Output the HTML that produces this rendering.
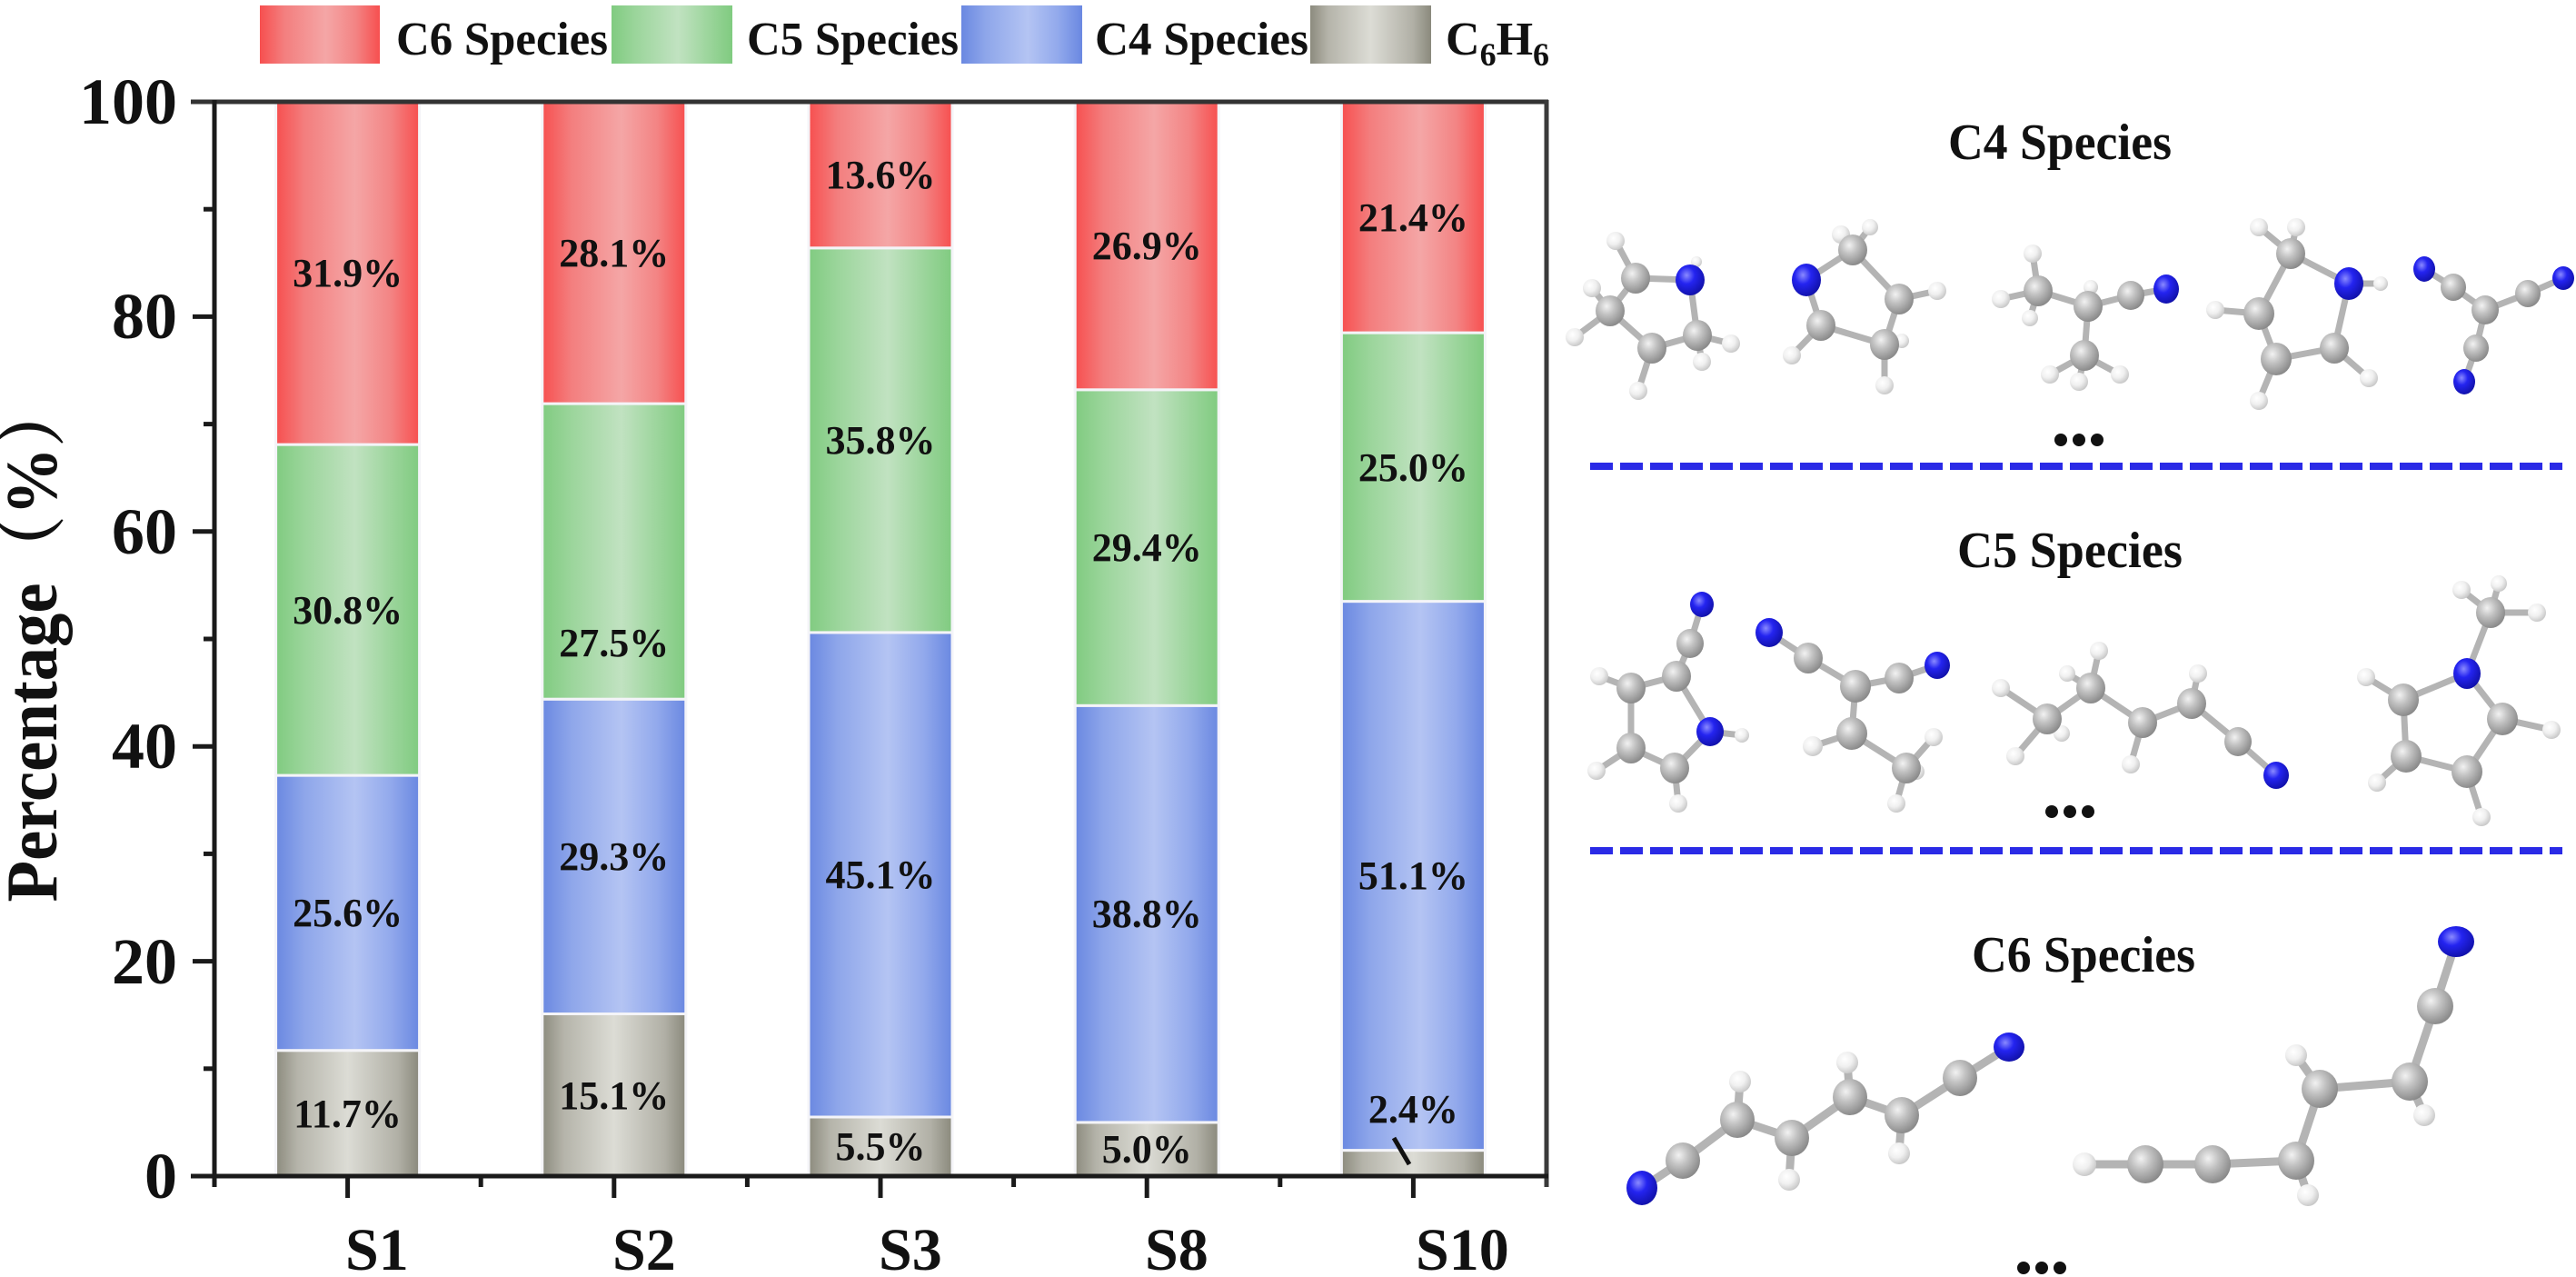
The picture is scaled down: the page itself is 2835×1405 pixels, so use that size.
<!DOCTYPE html>
<html><head><meta charset="utf-8"><style>
html,body{margin:0;padding:0;background:#fff;}
svg{display:block;}
text{font-family:"Liberation Serif","Noto Serif CJK SC",serif;font-weight:bold;fill:#111;}
</style></head><body>
<svg width="2835" height="1405" viewBox="0 0 2835 1405" xmlns="http://www.w3.org/2000/svg">
<defs>
<linearGradient id="gr" x1="0" x2="1" y1="0" y2="0"><stop offset="0" stop-color="#f74f4f"/><stop offset="0.2" stop-color="#f37e7e"/><stop offset="0.55" stop-color="#f4a6a6"/><stop offset="0.8" stop-color="#f38484"/><stop offset="1" stop-color="#f74f4f"/></linearGradient>
<linearGradient id="gg" x1="0" x2="1" y1="0" y2="0"><stop offset="0" stop-color="#80cb80"/><stop offset="0.2" stop-color="#9bd59b"/><stop offset="0.55" stop-color="#c1e2c1"/><stop offset="0.8" stop-color="#9cd59c"/><stop offset="1" stop-color="#80cb80"/></linearGradient>
<linearGradient id="gb" x1="0" x2="1" y1="0" y2="0"><stop offset="0" stop-color="#6a88e1"/><stop offset="0.2" stop-color="#8ea6ea"/><stop offset="0.55" stop-color="#b4c4f3"/><stop offset="0.8" stop-color="#92a9ec"/><stop offset="1" stop-color="#6a88e1"/></linearGradient>
<linearGradient id="gy" x1="0" x2="1" y1="0" y2="0"><stop offset="0" stop-color="#8c8b7e"/><stop offset="0.15" stop-color="#b5b4aa"/><stop offset="0.5" stop-color="#dcdcd5"/><stop offset="0.85" stop-color="#b1b0a6"/><stop offset="1" stop-color="#8a897c"/></linearGradient>
<radialGradient id="aC" cx="0.38" cy="0.35" r="0.7"><stop offset="0" stop-color="#f2f2f2"/><stop offset="0.4" stop-color="#c2c2c2"/><stop offset="1" stop-color="#858585"/></radialGradient>
<radialGradient id="aN" cx="0.38" cy="0.35" r="0.7"><stop offset="0" stop-color="#8a8aff"/><stop offset="0.4" stop-color="#2424f0"/><stop offset="1" stop-color="#1010a6"/></radialGradient>
<radialGradient id="aH" cx="0.38" cy="0.35" r="0.7"><stop offset="0" stop-color="#ffffff"/><stop offset="0.5" stop-color="#f0f0f0"/><stop offset="1" stop-color="#c4c4c4"/></radialGradient>
</defs>

<!-- Legend -->
<rect x="286" y="6" width="132" height="64" fill="url(#gr)"/>
<text x="436" y="60" font-size="52" textLength="233" lengthAdjust="spacingAndGlyphs">C6 Species</text>
<rect x="673" y="6" width="133" height="64" fill="url(#gg)"/>
<text x="822" y="60" font-size="52" textLength="233" lengthAdjust="spacingAndGlyphs">C5 Species</text>
<rect x="1058" y="6" width="133" height="64" fill="url(#gb)"/>
<text x="1205" y="60" font-size="52" textLength="235" lengthAdjust="spacingAndGlyphs">C4 Species</text>
<rect x="1442" y="6" width="133" height="64" fill="url(#gy)"/>
<text x="1591" y="60" font-size="52">C<tspan font-size="36" dy="12">6</tspan><tspan dy="-12">H</tspan><tspan font-size="36" dy="12">6</tspan></text>

<!-- Bars -->
<g stroke="#f4f4f8" stroke-width="3">
<rect x="303.6" y="1155.7" width="158" height="138.3" fill="url(#gy)"/>
<rect x="303.6" y="853.1" width="158" height="302.6" fill="url(#gb)"/>
<rect x="303.6" y="489.1" width="158" height="364" fill="url(#gg)"/>
<rect x="303.6" y="112" width="158" height="377.1" fill="url(#gr)"/>
<rect x="596.8" y="1115.5" width="158" height="178.5" fill="url(#gy)"/>
<rect x="596.8" y="769.2" width="158" height="346.3" fill="url(#gb)"/>
<rect x="596.8" y="444.1" width="158" height="325.1" fill="url(#gg)"/>
<rect x="596.8" y="112" width="158" height="332.1" fill="url(#gr)"/>
<rect x="890" y="1229" width="158" height="65" fill="url(#gy)"/>
<rect x="890" y="695.9" width="158" height="533.1" fill="url(#gb)"/>
<rect x="890" y="272.8" width="158" height="423.1" fill="url(#gg)"/>
<rect x="890" y="112" width="158" height="160.8" fill="url(#gr)"/>
<rect x="1183.2" y="1234.9" width="158" height="59.1" fill="url(#gy)"/>
<rect x="1183.2" y="776.3" width="158" height="458.6" fill="url(#gb)"/>
<rect x="1183.2" y="428.8" width="158" height="347.5" fill="url(#gg)"/>
<rect x="1183.2" y="112" width="158" height="316.8" fill="url(#gr)"/>
<rect x="1476.4" y="1265.6" width="158" height="28.4" fill="url(#gy)"/>
<rect x="1476.4" y="661.6" width="158" height="604" fill="url(#gb)"/>
<rect x="1476.4" y="366.1" width="158" height="295.5" fill="url(#gg)"/>
<rect x="1476.4" y="112" width="158" height="254.1" fill="url(#gr)"/>
</g>

<!-- Value labels -->
<g font-size="44" text-anchor="middle">
<text x="382.6" y="1240">11.7%</text>
<text x="382.6" y="1019">25.6%</text>
<text x="382.6" y="686">30.8%</text>
<text x="382.6" y="315">31.9%</text>
<text x="675.8" y="1220">15.1%</text>
<text x="675.8" y="957">29.3%</text>
<text x="675.8" y="722">27.5%</text>
<text x="675.8" y="293">28.1%</text>
<text x="969" y="1276">5.5%</text>
<text x="969" y="977">45.1%</text>
<text x="969" y="499">35.8%</text>
<text x="969" y="207">13.6%</text>
<text x="1262.2" y="1279">5.0%</text>
<text x="1262.2" y="1020">38.8%</text>
<text x="1262.2" y="617">29.4%</text>
<text x="1262.2" y="285">26.9%</text>
<text x="1555.4" y="1235">2.4%</text>
<text x="1555.4" y="978">51.1%</text>
<text x="1555.4" y="529">25.0%</text>
<text x="1555.4" y="254">21.4%</text>
</g>
<line x1="1534" y1="1252" x2="1551" y2="1281" stroke="#111" stroke-width="5"/>

<!-- Axes -->
<g stroke="#1a1a1a" stroke-width="5" fill="none">
<line x1="210" y1="112" x2="1704" y2="112" stroke="#333"/>
<line x1="1702" y1="110" x2="1702" y2="1306" stroke="#3a3a3a"/>
<line x1="236" y1="110" x2="236" y2="1306"/>
<line x1="210" y1="1294" x2="1704" y2="1294"/>
<line x1="212" y1="1057.6" x2="236" y2="1057.6"/>
<line x1="212" y1="821.2" x2="236" y2="821.2"/>
<line x1="212" y1="584.8" x2="236" y2="584.8"/>
<line x1="212" y1="348.4" x2="236" y2="348.4"/>
<line x1="224" y1="1175.8" x2="236" y2="1175.8"/>
<line x1="224" y1="939.4" x2="236" y2="939.4"/>
<line x1="224" y1="703" x2="236" y2="703"/>
<line x1="224" y1="466.6" x2="236" y2="466.6"/>
<line x1="224" y1="230.2" x2="236" y2="230.2"/>
<line x1="382.6" y1="1294" x2="382.6" y2="1318"/>
<line x1="675.8" y1="1294" x2="675.8" y2="1318"/>
<line x1="969" y1="1294" x2="969" y2="1318"/>
<line x1="1262.2" y1="1294" x2="1262.2" y2="1318"/>
<line x1="1555.4" y1="1294" x2="1555.4" y2="1318"/>
<line x1="529.2" y1="1294" x2="529.2" y2="1306"/>
<line x1="822.4" y1="1294" x2="822.4" y2="1306"/>
<line x1="1115.6" y1="1294" x2="1115.6" y2="1306"/>
<line x1="1408.8" y1="1294" x2="1408.8" y2="1306"/>
</g>

<!-- Tick labels -->
<g font-size="72" text-anchor="end">
<text x="195" y="1318">0</text>
<text x="195" y="1082">20</text>
<text x="195" y="845">40</text>
<text x="195" y="609">60</text>
<text x="195" y="372">80</text>
<text x="195" y="136">100</text>
</g>
<g font-size="66">
<text x="380" y="1397">S1</text>
<text x="674" y="1397">S2</text>
<text x="967" y="1397">S3</text>
<text x="1260" y="1397">S8</text>
<text x="1558" y="1397">S10</text>
</g>
<text transform="translate(62,705) rotate(-90)" text-anchor="middle" font-size="80" textLength="575" lengthAdjust="spacingAndGlyphs">Percentage（%）</text>

<!-- Right panel -->
<text x="2144" y="175" font-size="56" textLength="246" lengthAdjust="spacingAndGlyphs">C4 Species</text>
<text x="2154" y="624" font-size="56" textLength="248" lengthAdjust="spacingAndGlyphs">C5 Species</text>
<text x="2170" y="1069" font-size="56" textLength="246" lengthAdjust="spacingAndGlyphs">C6 Species</text>

<g fill="#111">
<circle cx="2268" cy="484" r="7"/><circle cx="2288" cy="484" r="7"/><circle cx="2308" cy="484" r="7"/>
<circle cx="2258" cy="893" r="7"/><circle cx="2278" cy="893" r="7"/><circle cx="2298" cy="893" r="7"/>
<circle cx="2227" cy="1395" r="7"/><circle cx="2247" cy="1395" r="7"/><circle cx="2267" cy="1395" r="7"/>
</g>

<g stroke="#2a2ae6" stroke-width="8" stroke-dasharray="25 8">
<line x1="1750" y1="513" x2="2820" y2="513"/>
<line x1="1750" y1="936" x2="2820" y2="936"/>
</g>

<!-- Bonds C4/C5 rows -->
<g stroke="#b4b4b4" stroke-width="7" stroke-linecap="round">
<line x1="1800" y1="306" x2="1778" y2="265"/><line x1="1800" y1="306" x2="1860" y2="308"/><line x1="1860" y1="308" x2="1868" y2="369"/>
<line x1="1868" y1="369" x2="1905" y2="378"/><line x1="1868" y1="369" x2="1873" y2="398"/><line x1="1868" y1="369" x2="1818" y2="383"/>
<line x1="1818" y1="383" x2="1803" y2="430"/><line x1="1818" y1="383" x2="1772" y2="342"/><line x1="1772" y1="342" x2="1800" y2="306"/>
<line x1="1772" y1="342" x2="1752" y2="317"/><line x1="1772" y1="342" x2="1733" y2="371"/>
<line x1="1988" y1="308" x2="2039" y2="275"/><line x1="2039" y1="275" x2="2026" y2="258"/><line x1="2039" y1="275" x2="2058" y2="250"/>
<line x1="2039" y1="275" x2="2090" y2="329"/><line x1="2090" y1="329" x2="2132" y2="320"/><line x1="2090" y1="329" x2="2074" y2="379"/>
<line x1="2074" y1="379" x2="2093" y2="375"/><line x1="2074" y1="379" x2="2074" y2="424"/><line x1="2074" y1="379" x2="2004" y2="358"/>
<line x1="2004" y1="358" x2="1988" y2="308"/><line x1="2004" y1="358" x2="1972" y2="391"/>
<line x1="2243" y1="320" x2="2237" y2="279"/><line x1="2243" y1="320" x2="2202" y2="329"/><line x1="2243" y1="320" x2="2234" y2="350"/>
<line x1="2243" y1="320" x2="2298" y2="337"/><line x1="2298" y1="337" x2="2301" y2="316"/><line x1="2298" y1="337" x2="2294" y2="391"/>
<line x1="2294" y1="391" x2="2256" y2="412"/><line x1="2294" y1="391" x2="2288" y2="420"/><line x1="2294" y1="391" x2="2333" y2="412"/>
<line x1="2298" y1="337" x2="2345" y2="325"/><line x1="2345" y1="325" x2="2384" y2="318"/>
<line x1="2521" y1="279" x2="2486" y2="250"/><line x1="2521" y1="279" x2="2527" y2="250"/><line x1="2521" y1="279" x2="2585" y2="312"/>
<line x1="2585" y1="312" x2="2620" y2="312"/><line x1="2521" y1="279" x2="2486" y2="345"/><line x1="2486" y1="345" x2="2438" y2="341"/>
<line x1="2486" y1="345" x2="2505" y2="395"/><line x1="2505" y1="395" x2="2486" y2="441"/><line x1="2505" y1="395" x2="2569" y2="383"/>
<line x1="2569" y1="383" x2="2585" y2="312"/><line x1="2569" y1="383" x2="2607" y2="416"/>
<line x1="2668" y1="296" x2="2700" y2="316"/><line x1="2700" y1="316" x2="2735" y2="341"/><line x1="2735" y1="341" x2="2782" y2="323"/>
<line x1="2782" y1="323" x2="2821" y2="306"/><line x1="2735" y1="341" x2="2725" y2="383"/><line x1="2725" y1="383" x2="2712" y2="420"/>
<line x1="1873" y1="665" x2="1860" y2="708"/><line x1="1860" y1="708" x2="1845" y2="744"/><line x1="1845" y1="744" x2="1795" y2="757"/>
<line x1="1795" y1="757" x2="1760" y2="744"/><line x1="1795" y1="757" x2="1795" y2="823"/><line x1="1795" y1="823" x2="1757" y2="848"/>
<line x1="1795" y1="823" x2="1843" y2="845"/><line x1="1843" y1="845" x2="1847" y2="884"/><line x1="1843" y1="845" x2="1882" y2="805"/>
<line x1="1882" y1="805" x2="1845" y2="744"/><line x1="1882" y1="805" x2="1917" y2="809"/>
<line x1="1947" y1="696" x2="1990" y2="724"/><line x1="1990" y1="724" x2="2042" y2="755"/><line x1="2042" y1="755" x2="2090" y2="746"/>
<line x1="2090" y1="746" x2="2132" y2="732"/><line x1="2042" y1="755" x2="2038" y2="807"/><line x1="2038" y1="807" x2="1995" y2="821"/>
<line x1="2038" y1="807" x2="2098" y2="845"/><line x1="2098" y1="845" x2="2087" y2="884"/><line x1="2098" y1="845" x2="2128" y2="811"/><line x1="2098" y1="845" x2="2109" y2="849"/>
<line x1="2253" y1="791" x2="2202" y2="757"/><line x1="2253" y1="791" x2="2218" y2="832"/><line x1="2253" y1="791" x2="2269" y2="807"/>
<line x1="2253" y1="791" x2="2301" y2="757"/><line x1="2301" y1="757" x2="2275" y2="741"/><line x1="2301" y1="757" x2="2310" y2="716"/>
<line x1="2301" y1="757" x2="2358" y2="795"/><line x1="2358" y1="795" x2="2345" y2="841"/><line x1="2358" y1="795" x2="2412" y2="774"/>
<line x1="2412" y1="774" x2="2419" y2="741"/><line x1="2412" y1="774" x2="2463" y2="816"/><line x1="2463" y1="816" x2="2505" y2="853"/>
<line x1="2741" y1="674" x2="2709" y2="649"/><line x1="2741" y1="674" x2="2792" y2="674"/><line x1="2741" y1="674" x2="2750" y2="642"/>
<line x1="2741" y1="674" x2="2715" y2="741"/><line x1="2715" y1="741" x2="2645" y2="770"/><line x1="2715" y1="741" x2="2754" y2="791"/>
<line x1="2645" y1="770" x2="2604" y2="745"/><line x1="2754" y1="791" x2="2808" y2="803"/><line x1="2645" y1="770" x2="2648" y2="832"/>
<line x1="2754" y1="791" x2="2715" y2="849"/><line x1="2648" y1="832" x2="2715" y2="849"/><line x1="2648" y1="832" x2="2616" y2="861"/>
<line x1="2715" y1="849" x2="2731" y2="899"/>
</g>
<g stroke="#b4b4b4" stroke-width="9" stroke-linecap="round">
<line x1="1807" y1="1307" x2="1852" y2="1277"/><line x1="1852" y1="1277" x2="1912" y2="1232"/><line x1="1912" y1="1232" x2="1915" y2="1190"/>
<line x1="1912" y1="1232" x2="1972" y2="1252"/><line x1="1972" y1="1252" x2="1969" y2="1298"/><line x1="1972" y1="1252" x2="2036" y2="1207"/>
<line x1="2036" y1="1207" x2="2033" y2="1169"/><line x1="2036" y1="1207" x2="2093" y2="1227"/><line x1="2093" y1="1227" x2="2090" y2="1269"/>
<line x1="2093" y1="1227" x2="2157" y2="1186"/><line x1="2157" y1="1186" x2="2211" y2="1152"/>
<line x1="2294" y1="1281" x2="2361" y2="1281"/><line x1="2361" y1="1281" x2="2435" y2="1281"/><line x1="2435" y1="1281" x2="2527" y2="1277"/>
<line x1="2527" y1="1277" x2="2540" y2="1315"/><line x1="2527" y1="1277" x2="2553" y2="1198"/><line x1="2553" y1="1198" x2="2527" y2="1161"/>
<line x1="2553" y1="1198" x2="2652" y2="1190"/><line x1="2652" y1="1190" x2="2668" y2="1227"/><line x1="2652" y1="1190" x2="2680" y2="1107"/>
<line x1="2680" y1="1107" x2="2703" y2="1036"/>
</g>

<!-- Atoms C4 row -->
<g>
<g fill="url(#aH)">
<ellipse cx="1778" cy="265" rx="10" ry="10"/><ellipse cx="1867" cy="288" rx="6" ry="6"/><ellipse cx="1905" cy="378" rx="10" ry="10"/><ellipse cx="1873" cy="398" rx="10" ry="10"/>
<ellipse cx="1803" cy="430" rx="10" ry="10"/><ellipse cx="1752" cy="317" rx="10" ry="10"/><ellipse cx="1733" cy="371" rx="10" ry="10"/>
<ellipse cx="2026" cy="258" rx="10" ry="10"/><ellipse cx="2058" cy="250" rx="9" ry="9"/><ellipse cx="2132" cy="320" rx="10" ry="10"/><ellipse cx="2093" cy="375" rx="8" ry="8"/>
<ellipse cx="2074" cy="424" rx="10" ry="10"/><ellipse cx="1972" cy="391" rx="10" ry="10"/>
<ellipse cx="2237" cy="279" rx="10" ry="10"/><ellipse cx="2202" cy="329" rx="10" ry="10"/><ellipse cx="2234" cy="350" rx="9" ry="9"/><ellipse cx="2301" cy="316" rx="8" ry="8"/>
<ellipse cx="2256" cy="412" rx="10" ry="10"/><ellipse cx="2288" cy="420" rx="10" ry="10"/><ellipse cx="2333" cy="412" rx="10" ry="10"/>
<ellipse cx="2486" cy="250" rx="10" ry="10"/><ellipse cx="2527" cy="250" rx="10" ry="10"/><ellipse cx="2620" cy="312" rx="8" ry="8"/><ellipse cx="2438" cy="341" rx="10" ry="10"/>
<ellipse cx="2486" cy="441" rx="10" ry="10"/><ellipse cx="2607" cy="416" rx="10" ry="10"/>
</g>
<g fill="url(#aC)">
<ellipse cx="1800" cy="306" rx="16" ry="17"/><ellipse cx="1868" cy="369" rx="16" ry="17"/><ellipse cx="1818" cy="383" rx="16" ry="17"/><ellipse cx="1772" cy="342" rx="16" ry="17"/>
<ellipse cx="2039" cy="275" rx="16" ry="17"/><ellipse cx="2090" cy="329" rx="16" ry="17"/><ellipse cx="2074" cy="379" rx="16" ry="17"/><ellipse cx="2004" cy="358" rx="16" ry="17"/>
<ellipse cx="2243" cy="320" rx="16" ry="17"/><ellipse cx="2298" cy="337" rx="16" ry="17"/><ellipse cx="2294" cy="391" rx="16" ry="17"/><ellipse cx="2345" cy="325" rx="15" ry="16"/>
<ellipse cx="2521" cy="279" rx="16" ry="17"/><ellipse cx="2486" cy="345" rx="17" ry="18"/><ellipse cx="2505" cy="395" rx="17" ry="18"/><ellipse cx="2569" cy="383" rx="16" ry="17"/>
<ellipse cx="2700" cy="316" rx="14" ry="15"/><ellipse cx="2735" cy="341" rx="15" ry="16"/><ellipse cx="2782" cy="323" rx="14" ry="15"/><ellipse cx="2725" cy="383" rx="14" ry="15"/>
</g>
<g fill="url(#aN)">
<ellipse cx="1860" cy="308" rx="16" ry="17"/><ellipse cx="1988" cy="308" rx="16" ry="18"/><ellipse cx="2384" cy="318" rx="14" ry="16"/><ellipse cx="2585" cy="312" rx="16" ry="18"/>
<ellipse cx="2668" cy="296" rx="12" ry="14"/><ellipse cx="2821" cy="306" rx="12" ry="13"/><ellipse cx="2712" cy="420" rx="12" ry="14"/>
</g>
</g>

<!-- Atoms C5 row -->
<g>
<g fill="url(#aH)">
<ellipse cx="1760" cy="744" rx="10" ry="10"/><ellipse cx="1757" cy="848" rx="10" ry="10"/><ellipse cx="1847" cy="884" rx="10" ry="10"/><ellipse cx="1917" cy="809" rx="8" ry="8"/>
<ellipse cx="1995" cy="821" rx="11" ry="11"/><ellipse cx="2087" cy="884" rx="10" ry="10"/><ellipse cx="2128" cy="811" rx="10" ry="10"/><ellipse cx="2109" cy="849" rx="9" ry="9"/>
<ellipse cx="2202" cy="757" rx="10" ry="10"/><ellipse cx="2218" cy="832" rx="10" ry="10"/><ellipse cx="2269" cy="807" rx="9" ry="9"/><ellipse cx="2275" cy="741" rx="9" ry="9"/>
<ellipse cx="2310" cy="716" rx="10" ry="10"/><ellipse cx="2345" cy="841" rx="10" ry="10"/><ellipse cx="2419" cy="741" rx="10" ry="10"/>
<ellipse cx="2709" cy="649" rx="10" ry="10"/><ellipse cx="2792" cy="674" rx="10" ry="10"/><ellipse cx="2750" cy="642" rx="9" ry="9"/>
<ellipse cx="2604" cy="745" rx="10" ry="10"/><ellipse cx="2808" cy="803" rx="10" ry="10"/><ellipse cx="2616" cy="861" rx="10" ry="10"/><ellipse cx="2731" cy="899" rx="10" ry="10"/>
</g>
<g fill="url(#aC)">
<ellipse cx="1860" cy="708" rx="15" ry="16"/><ellipse cx="1845" cy="744" rx="16" ry="17"/><ellipse cx="1795" cy="757" rx="16" ry="17"/><ellipse cx="1795" cy="823" rx="16" ry="17"/><ellipse cx="1843" cy="845" rx="16" ry="17"/>
<ellipse cx="1990" cy="724" rx="16" ry="17"/><ellipse cx="2042" cy="755" rx="17" ry="18"/><ellipse cx="2090" cy="746" rx="16" ry="17"/><ellipse cx="2038" cy="807" rx="17" ry="18"/><ellipse cx="2098" cy="845" rx="16" ry="17"/>
<ellipse cx="2253" cy="791" rx="16" ry="17"/><ellipse cx="2301" cy="757" rx="16" ry="17"/><ellipse cx="2358" cy="795" rx="16" ry="17"/><ellipse cx="2412" cy="774" rx="16" ry="17"/><ellipse cx="2463" cy="816" rx="15" ry="16"/>
<ellipse cx="2741" cy="674" rx="16" ry="17"/><ellipse cx="2645" cy="770" rx="17" ry="18"/><ellipse cx="2754" cy="791" rx="17" ry="18"/><ellipse cx="2648" cy="832" rx="17" ry="18"/><ellipse cx="2715" cy="849" rx="17" ry="18"/>
</g>
<g fill="url(#aN)">
<ellipse cx="1873" cy="665" rx="13" ry="14"/><ellipse cx="1882" cy="805" rx="15" ry="16"/><ellipse cx="1947" cy="696" rx="15" ry="16"/><ellipse cx="2132" cy="732" rx="14" ry="15"/>
<ellipse cx="2505" cy="853" rx="14" ry="15"/><ellipse cx="2715" cy="741" rx="15" ry="17"/>
</g>
</g>

<!-- Atoms C6 row -->
<g>
<g fill="url(#aH)">
<ellipse cx="1915" cy="1190" rx="12" ry="12"/><ellipse cx="1969" cy="1298" rx="12" ry="12"/><ellipse cx="2033" cy="1169" rx="12" ry="12"/><ellipse cx="2090" cy="1269" rx="12" ry="12"/>
<ellipse cx="2294" cy="1281" rx="13" ry="13"/><ellipse cx="2540" cy="1315" rx="12" ry="12"/><ellipse cx="2527" cy="1161" rx="12" ry="12"/><ellipse cx="2668" cy="1227" rx="12" ry="12"/>
</g>
<g fill="url(#aC)">
<ellipse cx="1852" cy="1277" rx="19" ry="20"/><ellipse cx="1912" cy="1232" rx="19" ry="20"/><ellipse cx="1972" cy="1252" rx="19" ry="20"/><ellipse cx="2036" cy="1207" rx="19" ry="20"/>
<ellipse cx="2093" cy="1227" rx="19" ry="20"/><ellipse cx="2157" cy="1186" rx="19" ry="20"/>
<ellipse cx="2361" cy="1281" rx="20" ry="21"/><ellipse cx="2435" cy="1281" rx="20" ry="21"/><ellipse cx="2527" cy="1277" rx="20" ry="21"/><ellipse cx="2553" cy="1198" rx="20" ry="21"/>
<ellipse cx="2652" cy="1190" rx="20" ry="21"/><ellipse cx="2680" cy="1107" rx="20" ry="20"/>
</g>
<g fill="url(#aN)">
<ellipse cx="1807" cy="1307" rx="17" ry="19"/><ellipse cx="2211" cy="1152" rx="17" ry="16"/><ellipse cx="2703" cy="1036" rx="20" ry="17"/>
</g>
</g>
</svg>
</body></html>
